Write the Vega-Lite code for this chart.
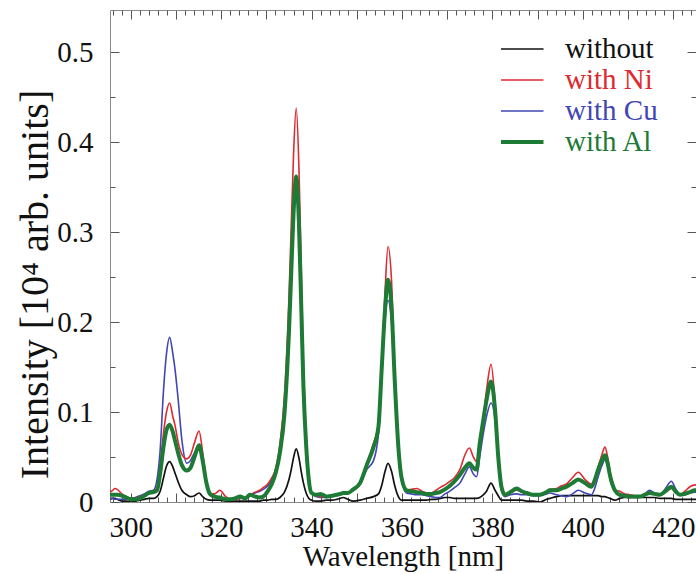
{
"$schema": "https://vega.github.io/schema/vega-lite/v6.json",
"width": 586, "height": 492,
"autosize": {"type": "none"},
"padding": {"left": 110, "top": 10, "right": 0, "bottom": 72},
"background": "white",
"config": {
 "view": {"stroke": null},
 "font": "Liberation Serif",
 "axis": {"grid": false, "labelFont": "Liberation Serif", "titleFont": "Liberation Serif", "labelFontSize": 29, "titleFontSize": 29, "labelColor": "#111111", "titleColor": "#111111", "titleFontWeight": "normal", "domainColor": "#8a8a8a", "tickColor": "#555555", "tickWidth": 1}
},
"data": {"values": [
{"w":295,"k":0.003,"ni":0.010,"cu":0.004,"al":0.008},
{"w":296,"k":0.004,"ni":0.013,"cu":0.004,"al":0.008},
{"w":296.5,"k":0.004,"ni":0.015,"cu":0.003,"al":0.008},
{"w":297,"k":0.003,"ni":0.014,"cu":0.003,"al":0.008},
{"w":298,"k":0.001,"ni":0.009,"cu":0.003,"al":0.007},
{"w":299,"k":0.001,"ni":0.006,"cu":0.003,"al":0.005},
{"w":300,"k":0.000,"ni":0.004,"cu":0.004,"al":0.003},
{"w":301,"k":0.001,"ni":0.004,"cu":0.005,"al":0.003},
{"w":302,"k":0.002,"ni":0.006,"cu":0.007,"al":0.004},
{"w":303,"k":0.003,"ni":0.008,"cu":0.009,"al":0.007},
{"w":304,"k":0.004,"ni":0.010,"cu":0.012,"al":0.010},
{"w":305,"k":0.004,"ni":0.012,"cu":0.013,"al":0.011},
{"w":305.8,"k":0.006,"ni":0.015,"cu":0.025,"al":0.013},
{"w":306.5,"k":0.012,"ni":0.040,"cu":0.058,"al":0.032},
{"w":307.2,"k":0.026,"ni":0.075,"cu":0.121,"al":0.060},
{"w":307.9,"k":0.040,"ni":0.100,"cu":0.165,"al":0.080},
{"w":308.6,"k":0.045,"ni":0.110,"cu":0.183,"al":0.086},
{"w":309.3,"k":0.039,"ni":0.095,"cu":0.165,"al":0.078},
{"w":309.8,"k":0.032,"ni":0.085,"cu":0.147,"al":0.068},
{"w":310.5,"k":0.022,"ni":0.066,"cu":0.113,"al":0.054},
{"w":311.3,"k":0.013,"ni":0.053,"cu":0.069,"al":0.041},
{"w":312.4,"k":0.008,"ni":0.048,"cu":0.043,"al":0.035},
{"w":313.2,"k":0.006,"ni":0.052,"cu":0.046,"al":0.038},
{"w":314.1,"k":0.007,"ni":0.066,"cu":0.055,"al":0.050},
{"w":315.1,"k":0.010,"ni":0.079,"cu":0.062,"al":0.063},
{"w":315.9,"k":0.006,"ni":0.055,"cu":0.045,"al":0.046},
{"w":316.7,"k":0.003,"ni":0.025,"cu":0.020,"al":0.022},
{"w":317.5,"k":0.002,"ni":0.010,"cu":0.008,"al":0.009},
{"w":318.5,"k":0.002,"ni":0.009,"cu":0.005,"al":0.006},
{"w":319.7,"k":0.002,"ni":0.013,"cu":0.004,"al":0.005},
{"w":321,"k":0.001,"ni":0.006,"cu":0.003,"al":0.003},
{"w":322,"k":0.001,"ni":0.003,"cu":0.003,"al":0.003},
{"w":323,"k":0.001,"ni":0.003,"cu":0.004,"al":0.004},
{"w":324.2,"k":0.001,"ni":0.004,"cu":0.004,"al":0.006},
{"w":325.3,"k":0.001,"ni":0.005,"cu":0.005,"al":0.004},
{"w":326.4,"k":0.001,"ni":0.008,"cu":0.007,"al":0.008},
{"w":327.5,"k":0.001,"ni":0.011,"cu":0.010,"al":0.006},
{"w":328.5,"k":0.001,"ni":0.013,"cu":0.012,"al":0.005},
{"w":329.3,"k":0.002,"ni":0.016,"cu":0.014,"al":0.006},
{"w":330.3,"k":0.002,"ni":0.020,"cu":0.018,"al":0.012},
{"w":331.2,"k":0.003,"ni":0.027,"cu":0.025,"al":0.020},
{"w":332.1,"k":0.003,"ni":0.038,"cu":0.035,"al":0.033},
{"w":333,"k":0.005,"ni":0.065,"cu":0.060,"al":0.055},
{"w":334,"k":0.011,"ni":0.118,"cu":0.105,"al":0.098},
{"w":335,"k":0.025,"ni":0.228,"cu":0.190,"al":0.190},
{"w":335.5,"k":0.036,"ni":0.307,"cu":0.255,"al":0.255},
{"w":336,"k":0.049,"ni":0.385,"cu":0.318,"al":0.320},
{"w":336.6,"k":0.059,"ni":0.438,"cu":0.358,"al":0.362},
{"w":337.2,"k":0.049,"ni":0.372,"cu":0.305,"al":0.310},
{"w":337.7,"k":0.034,"ni":0.263,"cu":0.215,"al":0.220},
{"w":338.2,"k":0.021,"ni":0.153,"cu":0.125,"al":0.128},
{"w":338.8,"k":0.010,"ni":0.074,"cu":0.062,"al":0.063},
{"w":339.4,"k":0.004,"ni":0.026,"cu":0.024,"al":0.024},
{"w":340,"k":0.002,"ni":0.011,"cu":0.010,"al":0.010},
{"w":341,"k":0.001,"ni":0.008,"cu":0.006,"al":0.008},
{"w":342,"k":0.001,"ni":0.006,"cu":0.005,"al":0.009},
{"w":343.3,"k":0.002,"ni":0.006,"cu":0.005,"al":0.006},
{"w":344.5,"k":0.002,"ni":0.007,"cu":0.007,"al":0.007},
{"w":345.6,"k":0.003,"ni":0.008,"cu":0.008,"al":0.008},
{"w":346.3,"k":0.004,"ni":0.009,"cu":0.008,"al":0.009},
{"w":347,"k":0.005,"ni":0.010,"cu":0.009,"al":0.010},
{"w":348,"k":0.003,"ni":0.010,"cu":0.009,"al":0.010},
{"w":349.2,"k":0.001,"ni":0.014,"cu":0.013,"al":0.014},
{"w":350.7,"k":0.002,"ni":0.021,"cu":0.019,"al":0.021},
{"w":352.2,"k":0.004,"ni":0.043,"cu":0.036,"al":0.041},
{"w":353.7,"k":0.006,"ni":0.065,"cu":0.046,"al":0.061},
{"w":354.8,"k":0.009,"ni":0.087,"cu":0.076,"al":0.084},
{"w":355.5,"k":0.018,"ni":0.154,"cu":0.136,"al":0.147},
{"w":356.2,"k":0.033,"ni":0.228,"cu":0.200,"al":0.210},
{"w":356.9,"k":0.043,"ni":0.284,"cu":0.224,"al":0.247},
{"w":357.7,"k":0.034,"ni":0.245,"cu":0.200,"al":0.215},
{"w":358.4,"k":0.018,"ni":0.135,"cu":0.125,"al":0.135},
{"w":359.2,"k":0.006,"ni":0.061,"cu":0.058,"al":0.061},
{"w":359.9,"k":0.002,"ni":0.027,"cu":0.025,"al":0.027},
{"w":361,"k":0.002,"ni":0.013,"cu":0.010,"al":0.013},
{"w":362,"k":0.002,"ni":0.014,"cu":0.009,"al":0.012},
{"w":363.3,"k":0.002,"ni":0.015,"cu":0.008,"al":0.011},
{"w":364.4,"k":0.002,"ni":0.012,"cu":0.008,"al":0.010},
{"w":365.4,"k":0.002,"ni":0.010,"cu":0.007,"al":0.009},
{"w":366.5,"k":0.003,"ni":0.010,"cu":0.006,"al":0.009},
{"w":367.5,"k":0.003,"ni":0.013,"cu":0.005,"al":0.010},
{"w":368.4,"k":0.004,"ni":0.016,"cu":0.005,"al":0.011},
{"w":369.5,"k":0.005,"ni":0.019,"cu":0.009,"al":0.014},
{"w":370.6,"k":0.005,"ni":0.023,"cu":0.012,"al":0.018},
{"w":371.6,"k":0.004,"ni":0.027,"cu":0.016,"al":0.023},
{"w":372.8,"k":0.004,"ni":0.036,"cu":0.021,"al":0.030},
{"w":373.9,"k":0.004,"ni":0.052,"cu":0.031,"al":0.038},
{"w":374.9,"k":0.004,"ni":0.060,"cu":0.039,"al":0.043},
{"w":375.8,"k":0.004,"ni":0.050,"cu":0.031,"al":0.038},
{"w":376.5,"k":0.004,"ni":0.045,"cu":0.028,"al":0.036},
{"w":377.2,"k":0.005,"ni":0.062,"cu":0.050,"al":0.065},
{"w":377.8,"k":0.007,"ni":0.085,"cu":0.070,"al":0.085},
{"w":378.7,"k":0.012,"ni":0.124,"cu":0.095,"al":0.113},
{"w":379.7,"k":0.021,"ni":0.153,"cu":0.110,"al":0.134},
{"w":380.6,"k":0.013,"ni":0.110,"cu":0.091,"al":0.102},
{"w":381.3,"k":0.007,"ni":0.054,"cu":0.047,"al":0.050},
{"w":382,"k":0.002,"ni":0.017,"cu":0.013,"al":0.017},
{"w":382.8,"k":0.002,"ni":0.008,"cu":0.006,"al":0.008},
{"w":384,"k":0.002,"ni":0.011,"cu":0.008,"al":0.011},
{"w":385.4,"k":0.002,"ni":0.013,"cu":0.009,"al":0.015},
{"w":386.5,"k":0.002,"ni":0.011,"cu":0.008,"al":0.012},
{"w":387.6,"k":0.001,"ni":0.010,"cu":0.008,"al":0.010},
{"w":389,"k":0.001,"ni":0.008,"cu":0.007,"al":0.008},
{"w":390.5,"k":0.000,"ni":0.008,"cu":0.007,"al":0.008},
{"w":392,"k":0.003,"ni":0.011,"cu":0.009,"al":0.011},
{"w":392.7,"k":0.004,"ni":0.014,"cu":0.010,"al":0.013},
{"w":394.2,"k":0.006,"ni":0.015,"cu":0.008,"al":0.013},
{"w":395.3,"k":0.007,"ni":0.018,"cu":0.007,"al":0.015},
{"w":396.4,"k":0.007,"ni":0.020,"cu":0.006,"al":0.017},
{"w":397.7,"k":0.007,"ni":0.027,"cu":0.009,"al":0.021},
{"w":399,"k":0.007,"ni":0.033,"cu":0.013,"al":0.025},
{"w":400.5,"k":0.007,"ni":0.025,"cu":0.010,"al":0.021},
{"w":401.9,"k":0.007,"ni":0.020,"cu":0.008,"al":0.017},
{"w":402.7,"k":0.007,"ni":0.027,"cu":0.016,"al":0.025},
{"w":403.4,"k":0.007,"ni":0.039,"cu":0.028,"al":0.036},
{"w":404.2,"k":0.006,"ni":0.052,"cu":0.040,"al":0.046},
{"w":404.9,"k":0.006,"ni":0.061,"cu":0.047,"al":0.052},
{"w":405.5,"k":0.005,"ni":0.050,"cu":0.040,"al":0.043},
{"w":406,"k":0.004,"ni":0.035,"cu":0.028,"al":0.030},
{"w":407.1,"k":0.002,"ni":0.013,"cu":0.012,"al":0.013},
{"w":408.2,"k":0.004,"ni":0.012,"cu":0.008,"al":0.008},
{"w":409.3,"k":0.005,"ni":0.009,"cu":0.006,"al":0.007},
{"w":410.4,"k":0.005,"ni":0.008,"cu":0.005,"al":0.006},
{"w":411.5,"k":0.005,"ni":0.007,"cu":0.006,"al":0.006},
{"w":412.6,"k":0.005,"ni":0.006,"cu":0.006,"al":0.006},
{"w":413.7,"k":0.005,"ni":0.008,"cu":0.009,"al":0.008},
{"w":414.8,"k":0.005,"ni":0.011,"cu":0.013,"al":0.010},
{"w":415.9,"k":0.005,"ni":0.009,"cu":0.010,"al":0.009},
{"w":417,"k":0.004,"ni":0.008,"cu":0.008,"al":0.008},
{"w":418.3,"k":0.004,"ni":0.011,"cu":0.015,"al":0.012},
{"w":419.6,"k":0.004,"ni":0.015,"cu":0.023,"al":0.017},
{"w":420.5,"k":0.003,"ni":0.011,"cu":0.015,"al":0.012},
{"w":421.5,"k":0.003,"ni":0.008,"cu":0.008,"al":0.008},
{"w":422.6,"k":0.003,"ni":0.012,"cu":0.008,"al":0.009},
{"w":423.7,"k":0.003,"ni":0.017,"cu":0.010,"al":0.011},
{"w":424.8,"k":0.003,"ni":0.019,"cu":0.011,"al":0.013},
{"w":426,"k":0.003,"ni":0.018,"cu":0.011,"al":0.013}
]},
"transform": [{"fold": ["k", "ni", "cu", "al"], "as": ["s", "v"]}],
"encoding": {
 "color": {"field": "s", "type": "nominal",
  "scale": {"domain": ["k", "ni", "cu", "al"], "range": ["#111111", "#dd2a30", "#4146b4", "#1d7b36"]},
  "legend": {"title": null, "orient": "none", "legendX": 391, "legendY": 29, "padding": 0, "symbolType": "stroke", "symbolSize": 3136, "clipHeight": 20, "rowPadding": 2, "labelOffset": 35, "labelFont": "Liberation Serif", "labelFontSize": 29,
   "labelExpr": "datum.value == 'k' ? 'without' : datum.value == 'ni' ? 'with Ni' : datum.value == 'cu' ? 'with Cu' : 'with Al'",
   "encode": {"labels": {"update": {"fill": {"scale": "color", "field": "value"}}},
              "symbols": {"update": {"strokeWidth": {"signal": "datum.value == 'al' ? 4 : 1.6"}}}}}}
},
"layer": [
 {"transform": [{"filter": "datum.s == 'k'"}],
  "mark": {"type": "line", "interpolate": "monotone", "clip": true, "strokeWidth": 1.7},
  "encoding": {
   "x": {"field": "w", "type": "quantitative", "scale": {"domain": [295.4, 425.05], "nice": false, "zero": false},
    "axis": {"orient": "bottom", "title": "Wavelength [nm]", "values": [300,310,320,330,340,350,360,370,380,390,400,410,420], "tickSize": -9, "labelPadding": 20, "labelExpr": "datum.value % 20 == 0 ? datum.label : ''", "labelFlush": false, "titleY": 63, "titleBaseline": "alphabetic"}},
   "y": {"field": "v", "type": "quantitative", "scale": {"domain": [0, 0.547], "nice": false, "zero": false},
    "axis": {"orient": "left", "title": "Intensity [10⁴ arb. units]", "titleFontSize": 40, "values": [0,0.1,0.2,0.3,0.4,0.5], "format": "~g", "tickSize": -9, "labelPadding": 26, "titleX": -75, "titleY": 274, "titleBaseline": "middle", "titleAlign": "center", "titleAngle": 270}}
  }},
 {"transform": [{"filter": "datum.s == 'cu'"}],
  "mark": {"type": "line", "interpolate": "monotone", "clip": true, "strokeWidth": 1.6},
  "encoding": {
   "x": {"field": "w", "type": "quantitative", "scale": {"domain": [295.4, 425.05], "nice": false, "zero": false},
    "axis": {"orient": "bottom", "title": null, "labels": false, "domain": false, "values": [296,298,302,304,306,308,312,314,316,318,322,324,326,328,332,334,336,338,342,344,346,348,352,354,356,358,362,364,366,368,372,374,376,378,382,384,386,388,392,394,396,398,402,404,406,408,412,414,416,418,422,424], "tickSize": -5}},
   "y": {"field": "v", "type": "quantitative", "scale": {"domain": [0, 0.547], "nice": false, "zero": false},
    "axis": {"orient": "left", "title": null, "labels": false, "domain": false, "values": [0.05,0.15,0.25,0.35,0.45], "tickSize": -5}}
  }},
 {"transform": [{"filter": "datum.s == 'ni'"}],
  "mark": {"type": "line", "interpolate": "monotone", "clip": true, "strokeWidth": 1.6},
  "encoding": {
   "x": {"field": "w", "type": "quantitative", "scale": {"domain": [295.4, 425.05], "nice": false, "zero": false},
    "axis": {"orient": "top", "title": null, "labels": false, "values": [300,310,320,330,340,350,360,370,380,390,400,410,420], "tickSize": -9}},
   "y": {"field": "v", "type": "quantitative", "scale": {"domain": [0, 0.547], "nice": false, "zero": false},
    "axis": {"orient": "right", "title": null, "labels": false, "domain": false, "values": [0,0.1,0.2,0.3,0.4,0.5], "tickSize": -9}}
  }},
 {"transform": [{"filter": "datum.s == 'al'"}],
  "mark": {"type": "line", "interpolate": "monotone", "clip": true, "strokeWidth": 4},
  "encoding": {
   "x": {"field": "w", "type": "quantitative", "scale": {"domain": [295.4, 425.05], "nice": false, "zero": false},
    "axis": {"orient": "top", "title": null, "labels": false, "domain": false, "values": [296,298,302,304,306,308,312,314,316,318,322,324,326,328,332,334,336,338,342,344,346,348,352,354,356,358,362,364,366,368,372,374,376,378,382,384,386,388,392,394,396,398,402,404,406,408,412,414,416,418,422,424], "tickSize": -5}},
   "y": {"field": "v", "type": "quantitative", "scale": {"domain": [0, 0.547], "nice": false, "zero": false},
    "axis": {"orient": "right", "title": null, "labels": false, "domain": false, "values": [0.05,0.15,0.25,0.35,0.45], "tickSize": -5}}
  }}
],
"resolve": {"axis": {"x": "independent", "y": "independent"}}
}
